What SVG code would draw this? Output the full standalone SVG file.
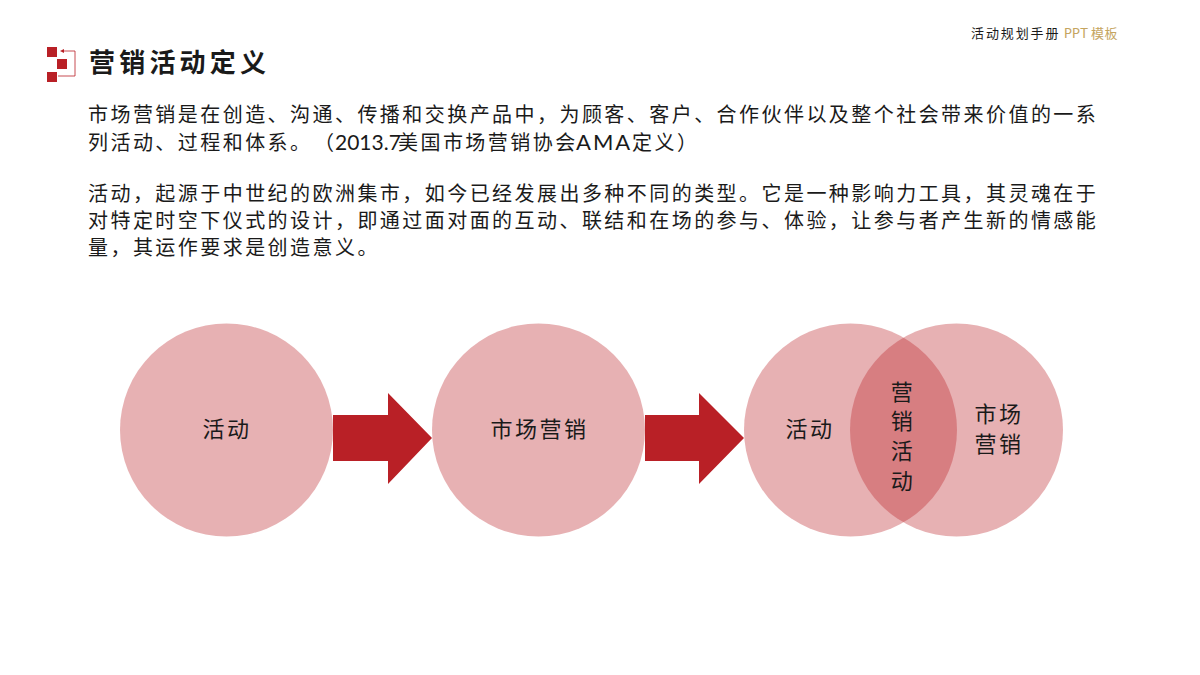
<svg xmlns="http://www.w3.org/2000/svg" width="1200" height="675" viewBox="0 0 1200 675">
<style>
text{font-family:"Lato","Noto Sans CJK SC",sans-serif;fill:#1a1a1a}
.b{font-size:20px;letter-spacing:2.45px}
.c{font-size:22px;letter-spacing:2.5px;text-anchor:middle}
.circ{fill:#b92026;fill-opacity:.35}
.red{fill:#b92026}
.l{letter-spacing:0;font-size:21px}
</style>
<rect width="1200" height="675" fill="#fff"/>
<g id="header"><text x="971" y="38" font-size="13" letter-spacing="1.9">活动规划手册<tspan x="1064" letter-spacing=".3" style="fill:#c5a560">PPT</tspan><tspan x="1091" letter-spacing=".6" style="fill:#c5a560">模板</tspan></text></g>
<g id="title-icon">
<rect class="red" x="47" y="47" width="10" height="10"/><rect class="red" x="57" y="59" width="10" height="10"/><rect class="red" x="47" y="72" width="10" height="10"/>
<path d="M63 51H75V76H58" fill="none" stroke="#b92026" stroke-width="0.8"/><path d="M60 51l4-2v4z" class="red"/>
</g>
<g id="title"><text x="89" y="72" font-size="26" font-weight="700" letter-spacing="4.2">营销活动定义</text></g>
<g id="body">
<text class="b" x="88" y="122">市场营销是在创造、沟通、传播和交换产品中&#xFF0C;为顾客、客户、合作伙伴以及整个社会带来价值的一系</text>
<text class="b" x="88" y="150">列活动、过程和体系。<tspan x="314">&#xFF08;</tspan><tspan class="l" x="335">2013.7</tspan><tspan x="398">美国市场营销协会</tspan><tspan class="l" x="576" style="letter-spacing:2px;font-size:22px">AMA</tspan><tspan x="632">定义&#xFF09;</tspan></text>
<text class="b" x="88" y="201">活动&#xFF0C;起源于中世纪的欧洲集市&#xFF0C;如今已经发展出多种不同的类型。它是一种影响力工具&#xFF0C;其灵魂在于</text>
<text class="b" x="88" y="228">对特定时空下仪式的设计&#xFF0C;即通过面对面的互动、联结和在场的参与、体验&#xFF0C;让参与者产生新的情感能</text>
<text class="b" x="88" y="255">量&#xFF0C;其运作要求是创造意义。</text>
</g>
<g id="connectors">
<polygon class="red" points="333,415 388,415 388,393 432,438 388,484 388,461 333,461"/>
<polygon class="red" points="645,415 699,415 699,393 744,438 699,484 699,461 645,461"/>
</g>
<g id="node-activity"><circle class="circ" cx="226.500" cy="430" r="106.500"/><text class="c" x="227" y="437">活动</text></g>
<g id="node-market"><circle class="circ" cx="538.500" cy="430" r="106.500"/><text class="c" x="539.500" y="437">市场营销</text></g>
<g id="node-venn">
<circle class="circ" cx="850.500" cy="430" r="106.500"/><circle class="circ" cx="956.500" cy="430" r="106.500"/>
<text class="c" x="810" y="437">活动</text>
<text class="c" x="999" y="422">市场</text><text class="c" x="999" y="452">营销</text>
<text class="c" x="903" y="400">营</text><text class="c" x="903" y="429">销</text><text class="c" x="903" y="459">活</text><text class="c" x="903" y="489">动</text>
</g>
</svg>
